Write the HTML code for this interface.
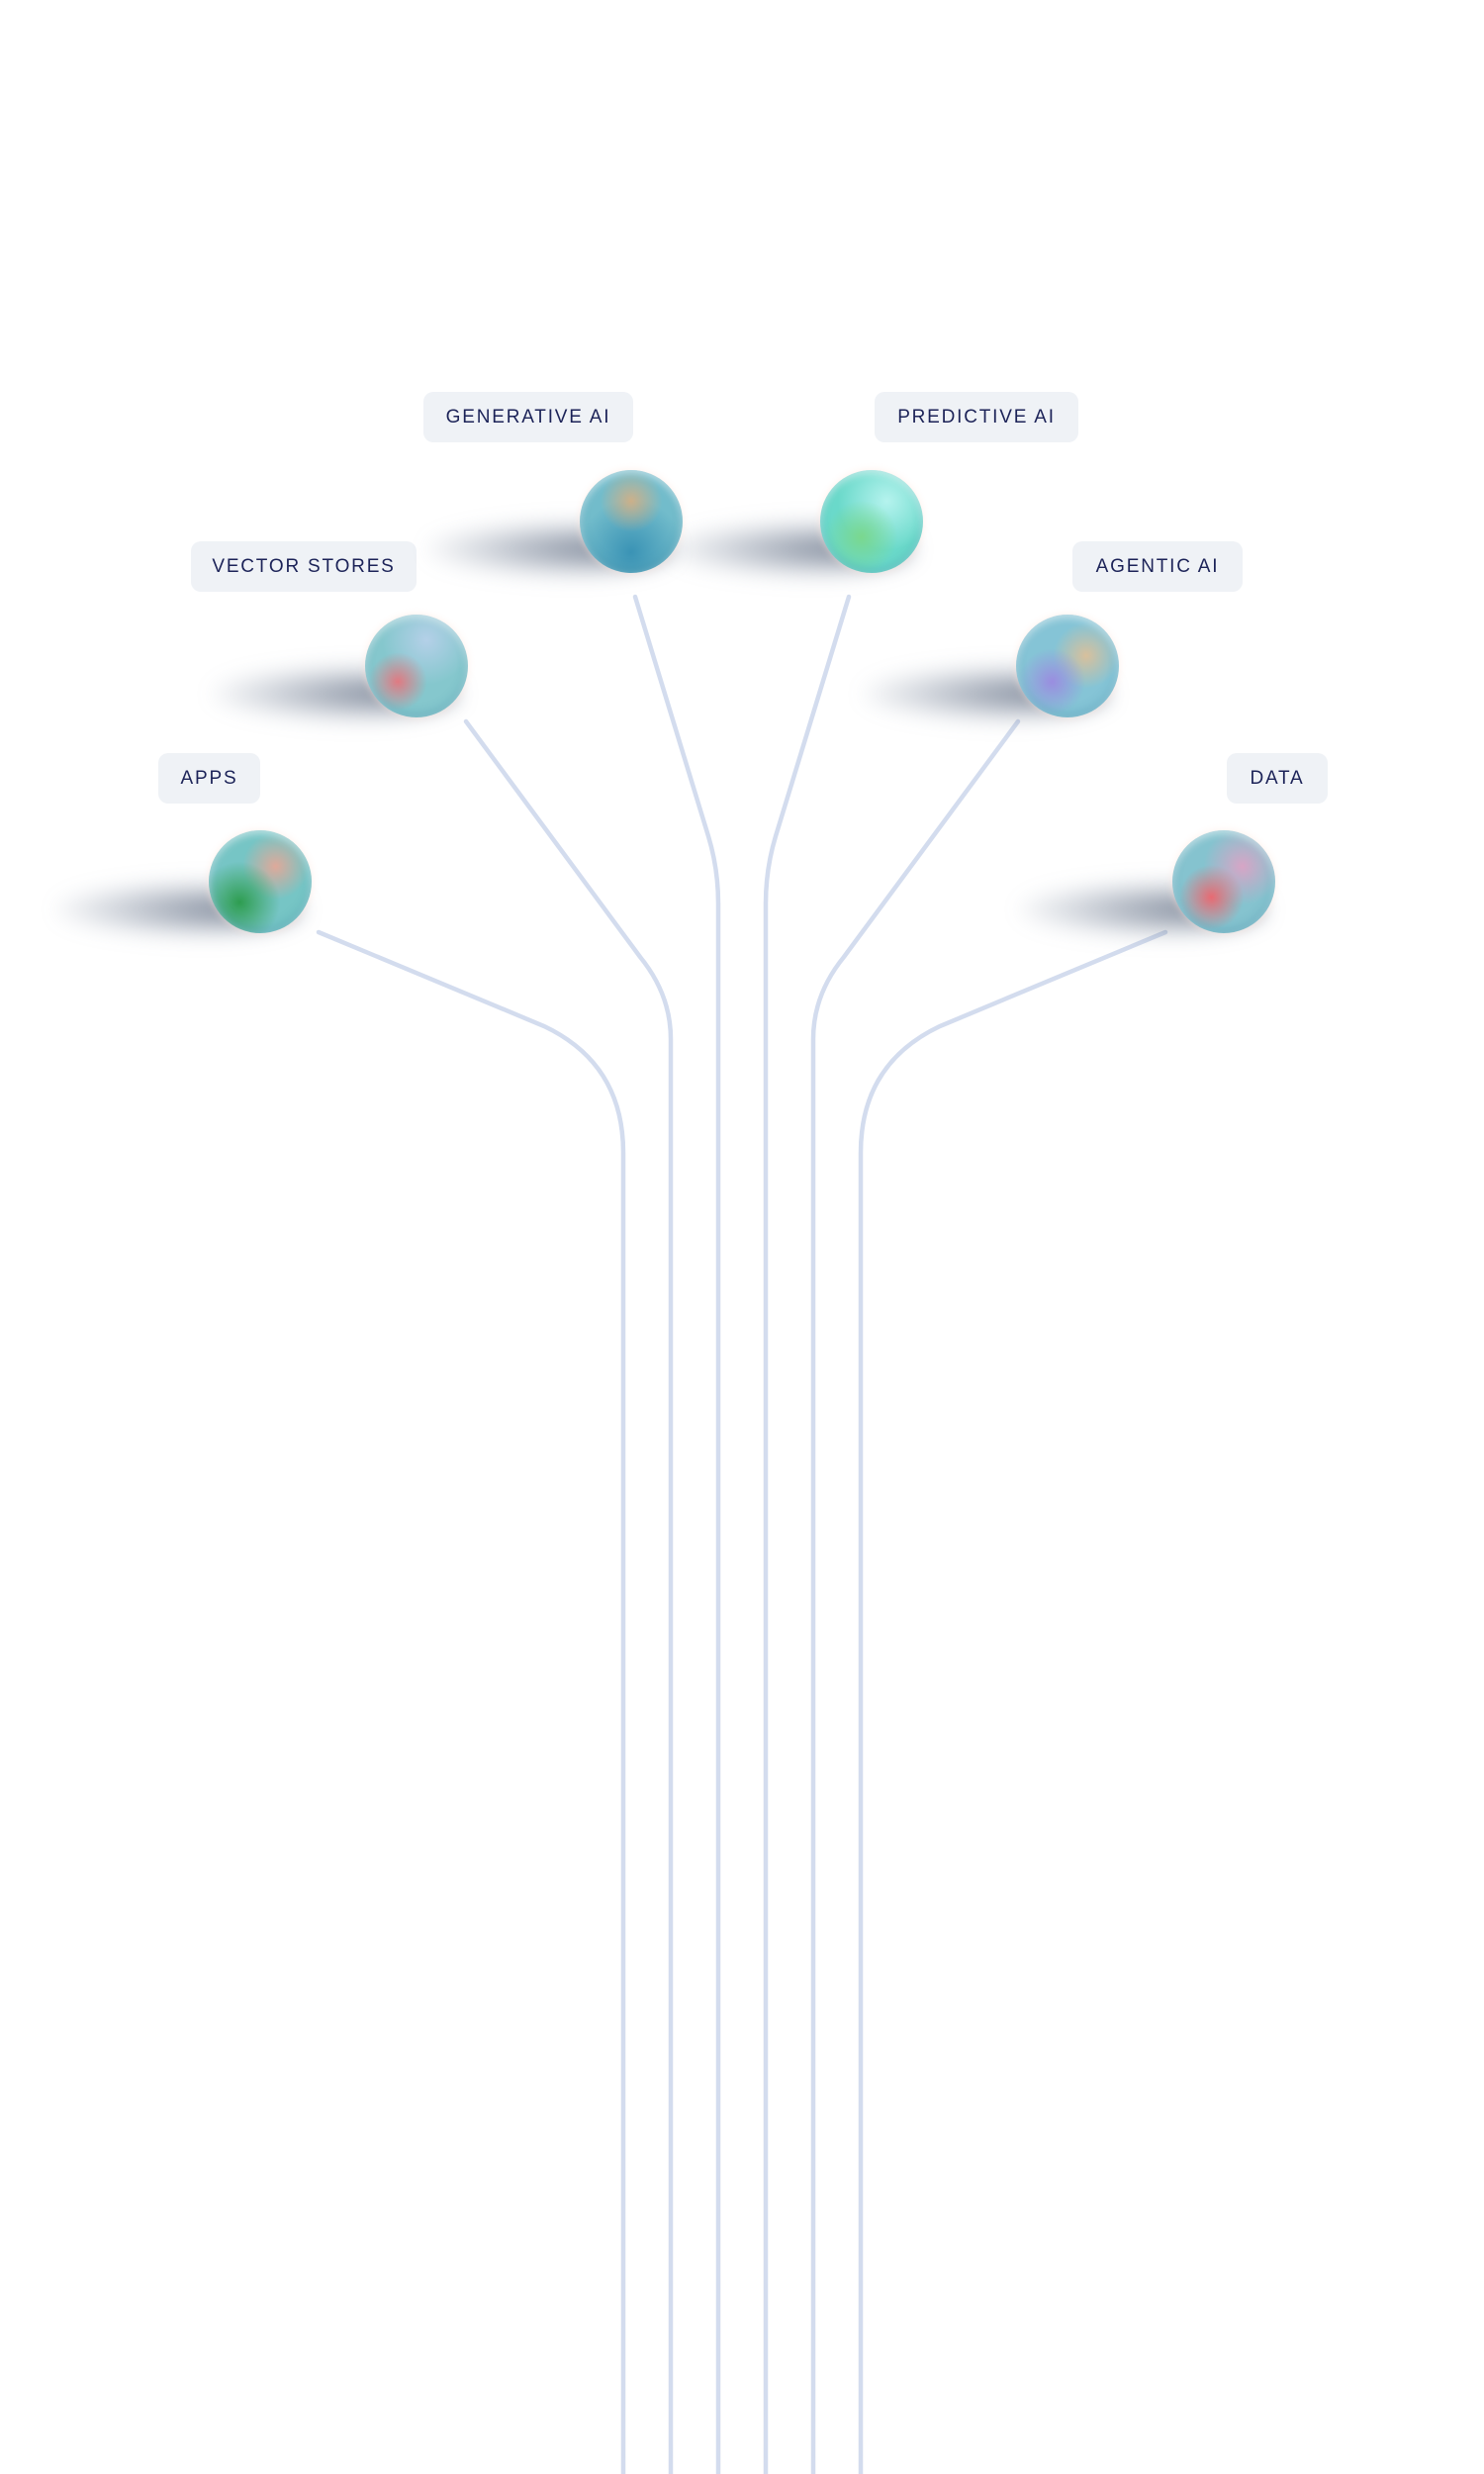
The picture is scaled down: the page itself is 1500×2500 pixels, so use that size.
<!DOCTYPE html>
<html><head><meta charset="utf-8"><style>
html,body{margin:0;padding:0;background:#fff;}
body{width:1500px;height:2500px;position:relative;overflow:hidden;font-family:"Liberation Sans",sans-serif;}
.lbl{position:absolute;height:51px;background:#eff2f6;border-radius:10px;color:#1c2358;font-size:19px;letter-spacing:1.8px;line-height:51px;text-align:center;}
.sh{position:absolute;width:250px;height:60px;border-radius:50%;background:radial-gradient(ellipse at 70% 50%,rgba(70,85,110,.7),rgba(90,105,130,.25) 50%,rgba(255,255,255,0) 75%);filter:blur(10px);}
.sp{position:absolute;width:104px;height:104px;border-radius:50%;box-shadow:inset 0 -4px 10px rgba(40,120,150,.25),inset 0 3px 8px rgba(255,255,255,.6),0 0 8px rgba(255,230,220,.6);}
svg{position:absolute;left:0;top:0;}
</style></head><body>
<svg width="1500" height="2500">
<g fill="none" stroke="#d3dcee" stroke-width="4.5" stroke-linecap="round">
<g id="L">
<path d="M642 603 L716 845 Q726 878 726 913 L726 2500"/>
<path d="M471 729 L647 967 Q678 1005 678 1050 L678 2500"/>
<path d="M322 942 L550 1037 Q630 1075 630 1165 L630 2500"/>
</g>
<use href="#L" transform="translate(1500,0) scale(-1,1)"/>
</g>
</svg>
<div class="lbl" style="left:428px;top:396px;width:212px">GENERATIVE AI</div>
<div class="lbl" style="left:884px;top:396px;width:206px">PREDICTIVE AI</div>
<div class="lbl" style="left:193px;top:547px;width:228px">VECTOR STORES</div>
<div class="lbl" style="left:1084px;top:547px;width:172px">AGENTIC AI</div>
<div class="lbl" style="left:160px;top:761px;width:103px">APPS</div>
<div class="lbl" style="left:1240px;top:761px;width:102px">DATA</div>

<div class="sh" style="left:430px;top:525px"></div>
<div class="sh" style="left:673px;top:525px"></div>
<div class="sh" style="left:213px;top:671px"></div>
<div class="sh" style="left:871px;top:671px"></div>
<div class="sh" style="left:55px;top:889px"></div>
<div class="sh" style="left:1029px;top:889px"></div>

<div class="sp" style="left:586px;top:475px;background:radial-gradient(circle at 50% 30%,rgba(215,175,130,.9),rgba(215,175,130,0) 35%),radial-gradient(circle at 50% 80%,#3a93b5,rgba(58,147,181,0) 55%),#72bccb"></div>
<div class="sp" style="left:829px;top:475px;background:radial-gradient(circle at 40% 65%,#7ad88e,rgba(115,214,142,0) 40%),radial-gradient(circle at 65% 30%,#b5f3ee,rgba(167,240,234,0) 50%),#6ad9ca"></div>
<div class="sp" style="left:369px;top:621px;background:radial-gradient(circle at 32% 65%,#e07a82,rgba(224,122,130,0) 30%),radial-gradient(circle at 60% 25%,#b4d0e8,rgba(167,198,226,0) 45%),#85c7cd"></div>
<div class="sp" style="left:1027px;top:621px;background:radial-gradient(circle at 35% 65%,#9a8de0,rgba(154,141,224,0) 35%),radial-gradient(circle at 68% 40%,#d8c09c,rgba(216,192,156,0) 35%),#85c4d6"></div>
<div class="sp" style="left:211px;top:839px;background:radial-gradient(circle at 30% 70%,#2e9d50,rgba(46,157,80,0) 40%),radial-gradient(circle at 65% 35%,#dea99a,rgba(222,169,154,0) 35%),#76c5c5"></div>
<div class="sp" style="left:1185px;top:839px;background:radial-gradient(circle at 38% 65%,#e86a72,rgba(232,106,114,0) 35%),radial-gradient(circle at 68% 35%,#d7a5c6,rgba(215,165,198,0) 40%),#85c3cf"></div>
</body></html>
